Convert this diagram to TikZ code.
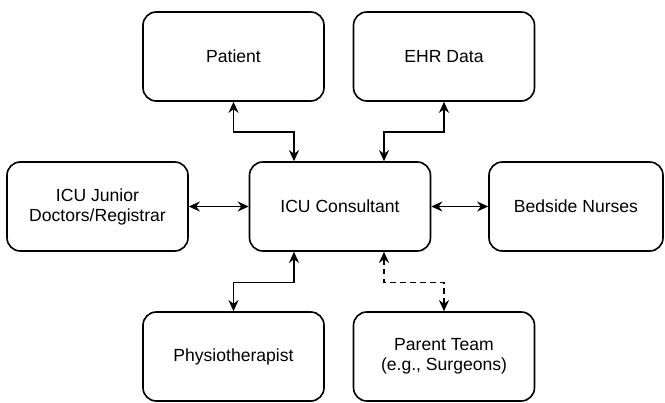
\documentclass[tikz,border=0pt]{standalone}
\usepackage{fontspec}
\setmainfont{Liberation Sans}
\usetikzlibrary{arrows.meta,positioning,calc}

\tikzset{
  box/.style={draw, line width=1.4pt, rounded corners=0.4cm, minimum width=5.43cm, minimum height=2.67cm, align=center, font=\fontsize{15}{17}\selectfont},
  link/.style={line width=1.4pt, {Stealth[length=0.33cm,width=0.3cm]}-{Stealth[length=0.33cm,width=0.3cm]}},
  dlink/.style={link, dash pattern=on 5pt off 3.5pt}
}

\begin{document}
\begin{tikzpicture}
  \useasboundingbox (0,0) rectangle (19.95,12.06);

  % top row
  \node[box] (patient) at (7.005,10.365) {Patient};
  \node[box] (ehr) at (13.32,10.365) {EHR Data};

  % middle row
  \node[box] (junior) at (2.925,5.865) {ICU Junior\\Doctors/Registrar};
  \node[box] (consultant) at (10.2,5.865) {ICU Consultant};
  \node[box, minimum width=5.22cm] (nurses) at (17.28,5.865) {Bedside Nurses};

  % bottom row
  \node[box] (physio) at (7.005,1.365) {Physiotherapist};
  \node[box] (parent) at (13.32,1.365) {Parent Team\\(e.g., Surgeons)};

  % connectors
  \draw[link] (patient.south) -- ++(0,-0.915) -| ([xshift=-1.38cm]consultant.north);
  \draw[link] (ehr.south) -- ++(0,-0.915) -| ([xshift=1.32cm]consultant.north);
  \draw[link] (junior) -- (consultant);
  \draw[link] (consultant) -- (nurses);
  \draw[link] ([xshift=-1.38cm]consultant.south) -- ++(0,-0.915) -| (physio.north);
  \draw[dlink] ([xshift=1.32cm]consultant.south) -- ++(0,-0.915) -| (parent.north);
\end{tikzpicture}
\end{document}
